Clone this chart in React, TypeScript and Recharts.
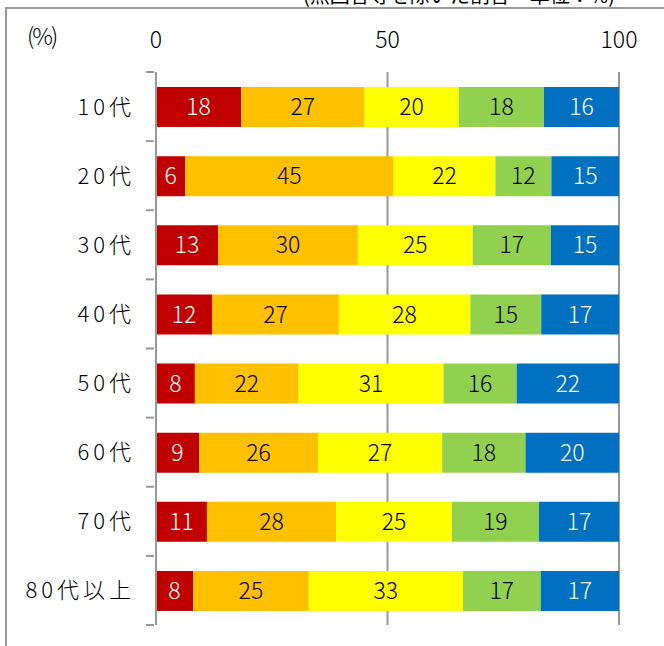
import { Bar, BarChart, CartesianGrid, LabelList, XAxis, YAxis } from "recharts";

const ages = ["10代", "20代", "30代", "40代", "50代", "60代", "70代", "80代以上"];
const red = [18.4, 6.3, 13.4, 12.1, 8.4, 9.3, 11.0, 8.0];
const orange = [26.6, 45.0, 30.2, 27.4, 22.4, 25.7, 27.9, 25.0];
const yellow = [20.4, 22.0, 24.8, 28.4, 31.3, 26.8, 25.0, 33.3];
const green = [18.4, 12.1, 16.9, 15.3, 15.8, 18.0, 18.8, 16.8];
const blue = [16.2, 14.6, 14.7, 16.8, 22.1, 20.2, 17.3, 16.9];
const xTicks = [0, 50, 100];

const data = ages.map((age, i) => ({
  age,
  red: red[i],
  orange: orange[i],
  yellow: yellow[i],
  green: green[i],
  blue: blue[i],
}));

const series = [
  { key: "red", fill: "#C00000", text: "#ffffff" },
  { key: "orange", fill: "#FFC000", text: "#000000" },
  { key: "yellow", fill: "#FFFF00", text: "#000000" },
  { key: "green", fill: "#92D050", text: "#000000" },
  { key: "blue", fill: "#0070C0", text: "#ffffff" },
];

const font = '"Noto Sans CJK JP", "Noto Sans", sans-serif';
const gray = "#999999";
const BAND = (625 - 72) / ages.length;

function AgeTick(props: any) {
  const { x, y, payload, index } = props;
  const axisX = x + 6;
  const half = BAND / 2;
  return (
    <g>
      <line x1={axisX - 8} x2={axisX} y1={y - half} y2={y - half} stroke={gray} strokeWidth={2} />
      {index === ages.length - 1 && (
        <line x1={axisX - 8} x2={axisX} y1={y + half} y2={y + half} stroke={gray} strokeWidth={2} />
      )}
      <text
        x={135}
        y={y}
        dy={8}
        textAnchor="end"
        fontSize={22}
        fontWeight={300}
        letterSpacing={4}
        fill="#000"
        fontFamily={font}
      >
        {payload.value}
      </text>
    </g>
  );
}

function PctTick(props: any) {
  const { x, y, payload } = props;
  return (
    <text
      x={x}
      y={y}
      dy={-16}
      textAnchor="middle"
      fontSize={23}
      fontWeight={300}
      fill="#000"
      fontFamily={font}
    >
      {payload.value}
    </text>
  );
}

export default function App() {
  return (
    <div
      style={{
        position: "absolute",
        left: 0,
        top: 0,
        width: 664,
        height: 646,
        overflow: "hidden",
        background: "#fff",
        fontFamily: font,
      }}
    >
      <div
        style={{
          position: "absolute",
          left: 303,
          top: -15,
          fontSize: 20,
          lineHeight: "20px",
          whiteSpace: "nowrap",
          color: "#000",
        }}
      >
        (無回答等を除いた割合・単位：%)
      </div>
      <div
        style={{
          position: "absolute",
          left: 5,
          top: 7,
          width: 664,
          height: 646,
          borderTop: `2px solid ${gray}`,
          borderLeft: `2px solid ${gray}`,
        }}
      />
      <div
        style={{
          position: "absolute",
          left: 27,
          top: 22,
          fontSize: 23,
          lineHeight: "26px",
          fontWeight: 300,
          letterSpacing: -2,
          color: "#000",
        }}
      >
        (%)
      </div>
      <div style={{ position: "absolute", left: 0, top: 0 }}>
        <BarChart
          width={664}
          height={646}
          data={data}
          layout="vertical"
          margin={{ top: 42, right: 45, bottom: 21, left: 6 }}
        >
          <CartesianGrid horizontal={false} stroke={gray} strokeWidth={2} />
          <XAxis
            type="number"
            orientation="top"
            domain={[0, 100]}
            ticks={xTicks}
            axisLine={false}
            tickLine={false}
            height={30}
            tick={<PctTick />}
          />
          <YAxis
            type="category"
            dataKey="age"
            width={150}
            axisLine={{ stroke: gray, strokeWidth: 2 }}
            tickLine={false}
            tick={<AgeTick />}
            interval={0}
          />
          {series.map((s) => (
            <Bar key={s.key} dataKey={s.key} stackId="a" fill={s.fill} barSize={40} isAnimationActive={false}>
              <LabelList
                dataKey={s.key}
                position="center"
                fill={s.text}
                fontSize={23}
                fontWeight={300}
                fontFamily={font}
                formatter={(v: any) => Math.round(Number(v))}
              />
            </Bar>
          ))}
        </BarChart>
      </div>
    </div>
  );
}
